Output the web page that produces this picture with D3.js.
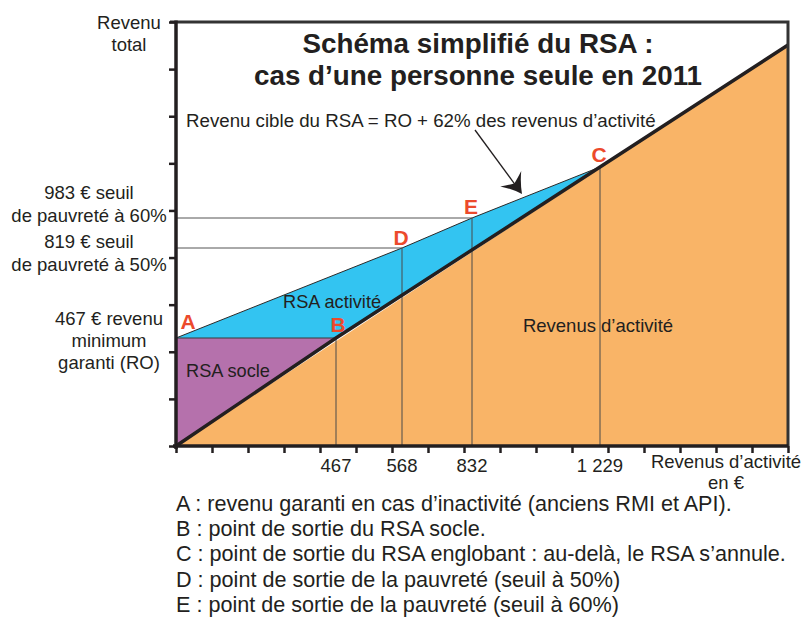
<!DOCTYPE html>
<html>
<head>
<meta charset="utf-8">
<script src="https://cdn.jsdelivr.net/npm/d3@7"></script>
<style>
  body { margin: 0; background: #fff; }
  text { font-family: "Liberation Sans", Arial, sans-serif; fill: #231f20; }
</style>
</head>
<body>
<svg id="chart" width="803" height="619"></svg>
<script>
// Points remarquables du schéma (revenus d'activité / revenu total, en €)
var pointNames = ["A", "B", "C", "D", "E"];
var pointActivite = [0, 467, 1229, 568, 832];
var pointTotal = [467, 467, 1229, 819, 983];

// revenu cible du RSA (RO + 62% des revenus d'activité)
var cibleActivite = [0, 568, 832, 1229];
var cibleTotal = [467, 819, 983, 1229];

var ro = 467;
var maxRevenu = 1770;

var seuilValues = [983, 819];
var xTickValues = [467, 568, 832, 1229];
var xTickLabels = ["467", "568", "832", "1 229"];

var legendLines = [
  "A : revenu garanti en cas d\u2019inactivité (anciens RMI et API).",
  "B : point de sortie du RSA socle.",
  "C : point de sortie du RSA englobant : au-delà, le RSA s\u2019annule.",
  "D : point de sortie de la pauvreté (seuil à 50%)",
  "E : point de sortie de la pauvreté (seuil à 60%)"
];

var colors = {
  orange: "#f9b467",
  cyan: "#33c4f1",
  purple: "#b571ac",
  red: "#ec4a2c",
  dark: "#231f20"
};

(function() {
  var svg = d3.select("#chart");
  var left = 176, right = 788, top = 22, bottom = 446;

  // schematic (non proportional) scales, as in the original drawing
  var x = d3.scaleLinear()
    .domain([0, 467, 568, 832, 1229, maxRevenu])
    .range([left, 336, 402, 472, 600, right]);
  var y = d3.scaleLinear()
    .domain([0, 467, 819, 983, 1229, maxRevenu])
    .range([bottom, 338, 248, 218, 167, 45]);

  var line = d3.line().x(function(d) { return x(d[0]); }).y(function(d) { return y(d[1]); });

  // orange : revenus d'activité (under the 45° line)
  svg.append("path")
    .attr("d", line([[0, 0], [maxRevenu, maxRevenu], [maxRevenu, 0]]) + "Z")
    .attr("fill", colors.orange);

  // purple : RSA socle
  svg.append("path")
    .attr("d", line([[0, 0], [0, ro], [ro, ro]]) + "Z")
    .attr("fill", colors.purple);

  // cyan : RSA activité
  var cible = cibleActivite.map(function(a, i) { return [a, cibleTotal[i]]; });
  svg.append("path")
    .attr("d", line(cible.concat([[ro, ro]])) + "Z")
    .attr("fill", colors.cyan);

  // RO horizontal line A -> B
  svg.append("path")
    .attr("d", line([[0, ro], [ro, ro]]))
    .attr("stroke", "#3a3a3a").attr("stroke-width", 1).attr("fill", "none");

  // revenu cible line
  svg.append("path")
    .attr("d", line(cible))
    .attr("stroke", "#2a2a2a").attr("stroke-width", 1).attr("fill", "none");

  // seuils de pauvreté : horizontal guides to E and D
  seuilValues.forEach(function(s) {
    var i = pointTotal.indexOf(s);
    svg.append("line")
      .attr("x1", x(0)).attr("x2", x(pointActivite[i]))
      .attr("y1", y(s)).attr("y2", y(s))
      .attr("stroke", "#555").attr("stroke-width", 1);
  });

  // vertical guides from B, D, E, C
  xTickValues.forEach(function(v) {
    var i = pointActivite.indexOf(v);
    svg.append("line")
      .attr("x1", x(v)).attr("x2", x(v))
      .attr("y1", y(pointTotal[i])).attr("y2", y(0))
      .attr("stroke", "#4a4a4a").attr("stroke-width", 1);
  });

  // 45° line : revenu total = revenus d'activité
  svg.append("path")
    .attr("d", line([[0, 0], [ro, ro], [1229, 1229], [maxRevenu, maxRevenu]]))
    .attr("stroke", colors.dark).attr("stroke-width", 3.5).attr("fill", "none");

  // frame (top and right)
  svg.append("path")
    .attr("d", "M" + (left - 6) + "," + top + "H" + right + "V" + bottom)
    .attr("stroke", "#333").attr("stroke-width", 3).attr("fill", "none");

  // axes : evenly spaced ticks without labels
  var yTickScale = d3.scaleLinear().domain([0, 9]).range([bottom, top]);
  var xTickScale = d3.scaleLinear().domain([0, 17]).range([left, right]);

  var yAxis = svg.append("g")
    .attr("transform", "translate(" + left + ",0)")
    .call(d3.axisLeft(yTickScale).ticks(9).tickSize(7).tickSizeOuter(0).tickFormat(""));
  var xAxis = svg.append("g")
    .attr("transform", "translate(0," + bottom + ")")
    .call(d3.axisBottom(xTickScale).ticks(17).tickSize(7).tickSizeOuter(0).tickFormat(""));

  [yAxis, xAxis].forEach(function(g) {
    g.select(".domain").attr("stroke", colors.dark).attr("stroke-width", 3.5);
    g.selectAll(".tick line").attr("stroke", colors.dark).attr("stroke-width", 2.5);
  });
  yAxis.select(".domain").attr("d", "M0," + (bottom + 3) + "V" + (top - 1.5));
  xAxis.select(".domain").attr("d", "M" + (left - 3) + ",0H" + right);

  // x tick labels
  svg.selectAll(".xlab")
    .data(xTickValues)
    .enter().append("text")
    .attr("class", "xlab")
    .attr("x", function(d) { return x(d); })
    .attr("y", 472)
    .attr("text-anchor", "middle")
    .style("font-size", "18.5px")
    .text(function(d, i) { return xTickLabels[i]; });

  // multi-line helper
  var multi = function(lines, cx, y0, dy, size, anchor) {
    var t = svg.append("text")
      .attr("text-anchor", anchor || "middle")
      .style("font-size", size + "px");
    lines.forEach(function(l, i) {
      t.append("tspan").attr("x", cx).attr("y", y0 + i * dy).text(l);
    });
    return t;
  };

  multi(["Revenu", "total"], 129, 29, 21.5, 18.5);
  multi(["Revenus d\u2019activité", "en \u20ac"], 726, 468, 21, 18.5);

  // y labels
  multi(["983 \u20ac seuil", "de pauvreté à 60%"], 89, 199, 23, 18.5);
  multi(["819 \u20ac seuil", "de pauvreté à 50%"], 89, 248, 22.5, 18.5);
  multi(["467 \u20ac revenu", "minimum", "garanti (RO)"], 109, 325, 22, 18.5);

  // title
  multi(["Schéma simplifié du RSA :", "cas d\u2019une personne seule en 2011"], 478, 53, 32, 27.8)
    .style("font-weight", "bold");

  // annotation
  svg.append("text")
    .attr("x", 186).attr("y", 127)
    .style("font-size", "18.7px")
    .text("Revenu cible du RSA = RO + 62% des revenus d\u2019activité");

  var tip = [522, 194], start = [475, 130];
  var ang = Math.atan2(tip[1] - start[1], tip[0] - start[0]) * 180 / Math.PI;
  var len = Math.hypot(tip[0] - start[0], tip[1] - start[1]);
  var arrow = svg.append("g")
    .attr("transform", "translate(" + tip[0] + "," + tip[1] + ") rotate(" + ang + ")");
  arrow.append("line")
    .attr("x1", -len).attr("y1", 0).attr("x2", -12).attr("y2", 0)
    .attr("stroke", colors.dark).attr("stroke-width", 1.3);
  arrow.append("path")
    .attr("d", "M0,0 Q-10,5 -19,13 Q-15,5 -13,0 Q-15,-5 -19,-13 Q-10,-5 0,0Z")
    .attr("fill", colors.dark);

  // region labels
  svg.append("text").attr("x", 283).attr("y", 308).style("font-size", "18.2px").text("RSA activité");
  svg.append("text").attr("x", 186).attr("y", 377).style("font-size", "18.2px").text("RSA socle");
  svg.append("text").attr("x", 598).attr("y", 332).attr("text-anchor", "middle")
    .style("font-size", "18.5px").text("Revenus d\u2019activité");

  // point letters
  var letterOffset = {
    A: [12, -9], B: [2, -6], C: [-1, -5], D: [-1, -3], E: [-1, -4]
  };
  svg.selectAll(".pt")
    .data(pointNames)
    .enter().append("text")
    .attr("class", "pt")
    .attr("x", function(d, i) { return x(pointActivite[i]) + letterOffset[d][0]; })
    .attr("y", function(d, i) { return y(pointTotal[i]) + letterOffset[d][1]; })
    .attr("text-anchor", "middle")
    .style("font-size", "21px")
    .style("font-weight", "bold")
    .style("fill", colors.red)
    .text(function(d) { return d; });

  // legend
  svg.selectAll(".leg")
    .data(legendLines)
    .enter().append("text")
    .attr("class", "leg")
    .attr("x", 176)
    .attr("y", function(d, i) { return 511 + i * 25.2; })
    .style("font-size", "21.6px")
    .text(function(d) { return d; });
})();
</script>
</body>
</html>
